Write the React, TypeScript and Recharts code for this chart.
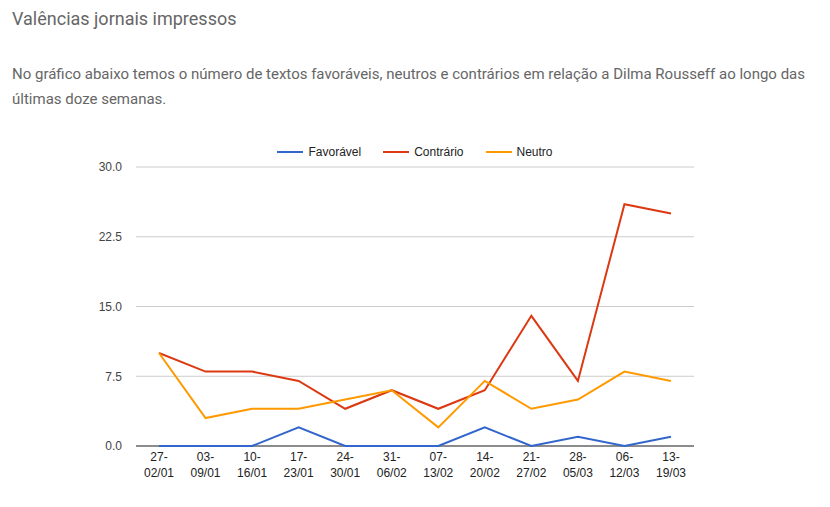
import * as React from "react";
import {
  LineChart,
  Line,
  XAxis,
  YAxis,
  CartesianGrid,
  ReferenceLine,
} from "recharts";

const weeks = [
  "27-|02/01",
  "03-|09/01",
  "10-|16/01",
  "17-|23/01",
  "24-|30/01",
  "31-|06/02",
  "07-|13/02",
  "14-|20/02",
  "21-|27/02",
  "28-|05/03",
  "06-|12/03",
  "13-|19/03",
];
const favoravel = [0, 0, 0, 2, 0, 0, 0, 2, 0, 1, 0, 1];
const contrario = [10, 8, 8, 7, 4, 6, 4, 6, 14, 7, 26, 25];
const neutro = [10, 3, 4, 4, 5, 6, 2, 7, 4, 5, 8, 7];
const yTicks = [0, 7.5, 15, 22.5, 30];

const series = [
  { key: "favoravel", name: "Favorável", color: "#3366cc" },
  { key: "contrario", name: "Contrário", color: "#dc3912" },
  { key: "neutro", name: "Neutro", color: "#ff9900" },
];

const data = weeks.map((w, i) => ({
  week: w,
  favoravel: favoravel[i],
  contrario: contrario[i],
  neutro: neutro[i],
}));

const chartFont = "Arial, 'Liberation Sans', sans-serif";

function WeekTick({ x, y, payload }: any) {
  const [a, b] = String(payload.value).split("|");
  return (
    <text x={x} y={y} textAnchor="middle" fontFamily={chartFont} fontSize={12} fill="#222">
      <tspan x={x} dy={7}>{a}</tspan>
      <tspan x={x} dy={16}>{b}</tspan>
    </text>
  );
}

// legend drawn as html so it doesn't push the plot area down
function LegendRow() {
  return (
    <div
      style={{
        position: "absolute",
        left: 0,
        top: 145,
        width: 830,
        display: "flex",
        justifyContent: "center",
        gap: 22,
        fontFamily: chartFont,
        fontSize: 12,
        color: "#222",
      }}
    >
      {series.map((s) => (
        <span key={s.key} style={{ display: "flex", alignItems: "center" }}>
          <span
            style={{
              display: "inline-block",
              width: 26,
              height: 2,
              background: s.color,
              marginRight: 5,
            }}
          />
          {s.name}
        </span>
      ))}
    </div>
  );
}

export default function App() {
  return (
    <div
      style={{
        position: "absolute",
        left: 0,
        top: 0,
        width: 830,
        height: 507,
        background: "#fff",
        overflow: "hidden",
      }}
    >
      <div
        style={{
          position: "absolute",
          left: 12,
          top: 8,
          fontFamily: "Roboto, sans-serif",
          fontSize: 18,
          color: "#666",
          whiteSpace: "nowrap",
        }}
      >
        Valências jornais impressos
      </div>
      <div
        style={{
          position: "absolute",
          left: 12,
          top: 62,
          width: 815,
          fontFamily: "Roboto, sans-serif",
          fontSize: 15,
          lineHeight: "25px",
          color: "#666",
        }}
      >
        No gráfico abaixo temos o número de textos favoráveis, neutros e contrários em relação a Dilma
        Rousseff ao longo das últimas doze semanas.
      </div>
      <div style={{ position: "absolute", left: 0, top: 0 }}>
        <LineChart
          width={830}
          height={507}
          data={data}
          margin={{ top: 167, right: 136, bottom: 0, left: 0 }}
        >
          <CartesianGrid vertical={false} stroke="#cccccc" />
          <XAxis
            dataKey="week"
            height={61}
            axisLine={false}
            tickLine={false}
            tick={<WeekTick />}
            interval={0}
            padding={{ left: 23, right: 23 }}
          />
          <YAxis
            width={136}
            domain={[0, 30]}
            ticks={yTicks}
            tickFormatter={(v: number) => v.toFixed(1)}
            axisLine={false}
            tickLine={false}
            tickSize={0}
            tickMargin={14}
            tick={{ fontFamily: chartFont, fontSize: 12, fill: "#444" }}
          />
          <ReferenceLine y={0} stroke="#333" strokeWidth={1} />
          {series.map((s) => (
            <Line
              key={s.key}
              type="linear"
              dataKey={s.key}
              name={s.name}
              stroke={s.color}
              strokeWidth={2}
              dot={false}
              activeDot={false}
              isAnimationActive={false}
            />
          ))}
        </LineChart>
      </div>
      <LegendRow />
    </div>
  );
}
